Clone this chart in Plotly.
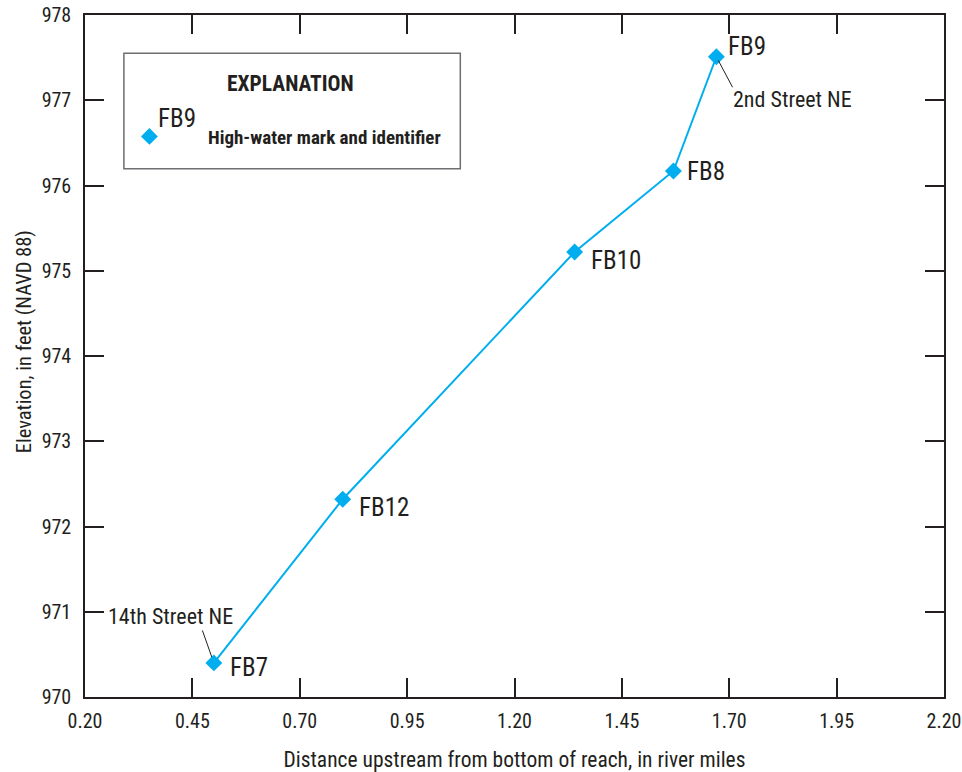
import plotly.graph_objects as go

# ---- data ----
ids = ["FB7", "FB12", "FB10", "FB8", "FB9"]
distance_mi = [0.50, 0.80, 1.34, 1.57, 1.67]
elevation_ft = [970.40, 972.32, 975.22, 976.17, 977.51]
x_ticks = [0.20, 0.45, 0.70, 0.95, 1.20, 1.45, 1.70, 1.95, 2.20]
y_ticks = [970, 971, 972, 973, 974, 975, 976, 977, 978]

# ---- styling ----
FONT = "Liberation Sans Narrow, Roboto Condensed, Arial Narrow, sans-serif"
INK = "#231f20"
BLUE = "#00aeef"
label_shift = {"FB7": (14, -5), "FB12": (14, -8), "FB10": (14, -9), "FB8": (12, 0), "FB9": (10, 10)}

fig = go.Figure()
fig.add_trace(go.Scatter(
    x=distance_mi, y=elevation_ft, mode="lines+markers",
    line=dict(color=BLUE, width=2),
    marker=dict(symbol="diamond", size=13, color=BLUE),
    showlegend=False, hoverinfo="x+y",
))

# legend marker on an overlay paper-like axis
fig.add_trace(go.Scatter(
    x=[0.075], y=[0.822], xaxis="x2", yaxis="y2", mode="markers",
    marker=dict(symbol="diamond", size=13, color=BLUE), showlegend=False,
    hoverinfo="skip",
))

for name, xv, yv in zip(ids, distance_mi, elevation_ft):
    dx, dy = label_shift[name]
    fig.add_annotation(x=xv, y=yv, text=name, showarrow=False, xanchor="left",
                       yanchor="middle", xshift=dx, yshift=dy,
                       font=dict(family=FONT, size=25, color=INK))

# street leader lines + labels
fig.add_annotation(x=distance_mi[4], y=elevation_ft[4], text="", showarrow=True,
                   arrowhead=0, arrowwidth=1, arrowcolor=INK, ax=17, ay=32, standoff=4)
fig.add_annotation(x=distance_mi[4], y=elevation_ft[4], text="2nd Street NE", showarrow=False,
                   xanchor="left", yanchor="middle", xshift=15, yshift=-43,
                   font=dict(family=FONT, size=22, color=INK))
fig.add_annotation(x=distance_mi[0], y=elevation_ft[0], text="", showarrow=True,
                   arrowhead=0, arrowwidth=1, arrowcolor=INK, ax=-12, ay=-34, standoff=6)
fig.add_annotation(x=distance_mi[0], y=elevation_ft[0], text="14th Street NE", showarrow=False,
                   xanchor="center", yanchor="middle", xshift=-43, yshift=46,
                   font=dict(family=FONT, size=22, color=INK))

# explanation box
fig.add_shape(type="rect", xref="paper", yref="paper", x0=0.0453, x1=0.4369, y0=0.7744, y1=0.9440,
              line=dict(color="#6d6e71", width=1.5), fillcolor="rgba(0,0,0,0)")
fig.add_annotation(xref="paper", yref="paper", x=0.239, y=0.9000, text="<b>EXPLANATION</b>",
                   showarrow=False, xanchor="center", yanchor="middle",
                   font=dict(family=FONT, size=21.5, color=INK))
fig.add_annotation(xref="paper", yref="paper", x=0.0832, y=0.8477, text="FB9",
                   showarrow=False, xanchor="left", yanchor="middle",
                   font=dict(family=FONT, size=25, color=INK))
fig.add_annotation(xref="paper", yref="paper", x=0.1413, y=0.8208, text="<b>High-water mark and identifier</b>",
                   showarrow=False, xanchor="left", yanchor="middle",
                   font=dict(family=FONT, size=19, color=INK))

# y-axis title (placed as annotation to match the reference's vertical position)
fig.add_annotation(xref="paper", yref="paper", x=-0.0716, y=0.5209,
                   text="Elevation, in feet (NAVD 88)", textangle=-90, showarrow=False,
                   xanchor="center", yanchor="middle",
                   font=dict(family=FONT, size=20.5, color=INK))

axis_common = dict(showgrid=False, zeroline=False, showline=True, linecolor=INK, linewidth=1.5,
                   ticks="inside", ticklen=19, tickwidth=1.5, tickcolor=INK, mirror="ticks",
                   automargin=False, tickfont=dict(family=FONT, size=20, color=INK))

fig.update_layout(
    width=962, height=772,
    margin=dict(l=84.5, r=18, t=15, b=74.5),
    paper_bgcolor="white", plot_bgcolor="white",
    xaxis=dict(range=[0.20, 2.20], tickvals=x_ticks, ticktext=[f"{v:.2f}" for v in x_ticks],
               ticklabelstandoff=5,
               title=dict(text="Distance upstream from bottom of reach, in river miles",
                          font=dict(family=FONT, size=21.5, color=INK), standoff=22),
               **axis_common),
    yaxis=dict(range=[970, 978], tickvals=y_ticks, ticktext=[str(v) for v in y_ticks],
               ticklabelstandoff=8, **axis_common),
    xaxis2=dict(range=[0, 1], overlaying="x", visible=False, fixedrange=True),
    yaxis2=dict(range=[0, 1], overlaying="y", visible=False, fixedrange=True),
    showlegend=False,
)

fig.write_html("out.html")
